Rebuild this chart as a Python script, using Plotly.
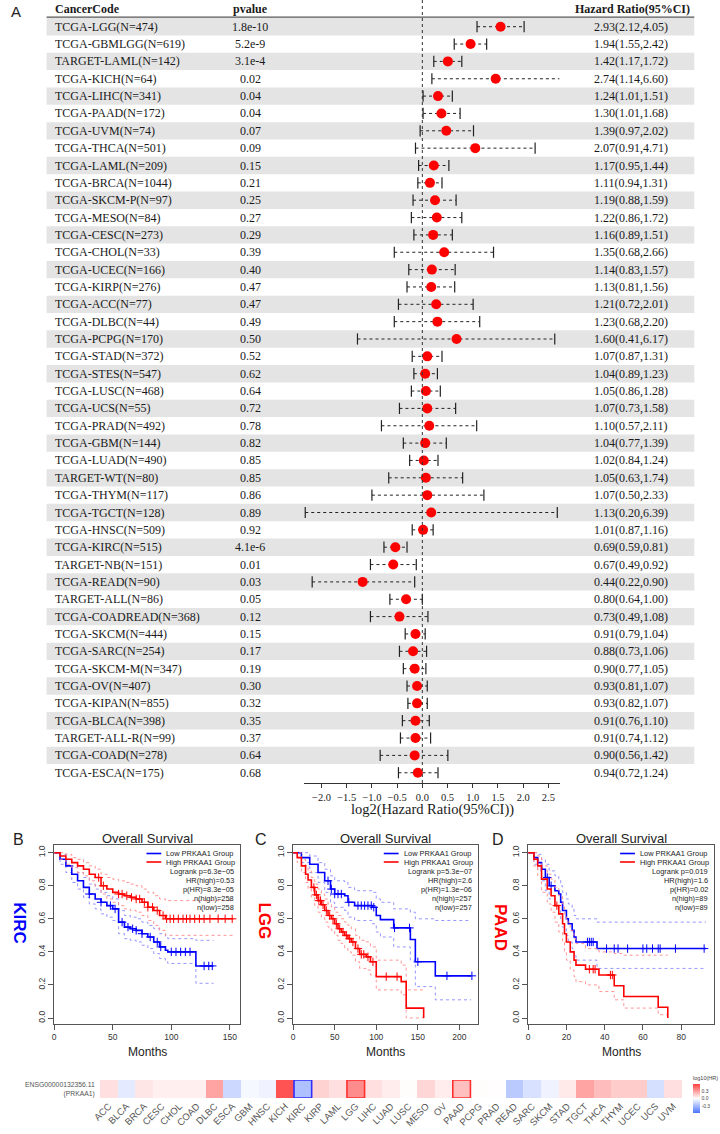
import numpy as np
import plotly.graph_objects as go

W, H = 720, 1134
def px(x): return x / W
def py(y): return 1 - y / H

# ---------------- Forest plot data ----------------
cancer_codes = ["TCGA-LGG(N=474)","TCGA-GBMLGG(N=619)","TARGET-LAML(N=142)","TCGA-KICH(N=64)",
 "TCGA-LIHC(N=341)","TCGA-PAAD(N=172)","TCGA-UVM(N=74)","TCGA-THCA(N=501)","TCGA-LAML(N=209)",
 "TCGA-BRCA(N=1044)","TCGA-SKCM-P(N=97)","TCGA-MESO(N=84)","TCGA-CESC(N=273)","TCGA-CHOL(N=33)",
 "TCGA-UCEC(N=166)","TCGA-KIRP(N=276)","TCGA-ACC(N=77)","TCGA-DLBC(N=44)","TCGA-PCPG(N=170)",
 "TCGA-STAD(N=372)","TCGA-STES(N=547)","TCGA-LUSC(N=468)","TCGA-UCS(N=55)","TCGA-PRAD(N=492)",
 "TCGA-GBM(N=144)","TCGA-LUAD(N=490)","TARGET-WT(N=80)","TCGA-THYM(N=117)","TCGA-TGCT(N=128)",
 "TCGA-HNSC(N=509)","TCGA-KIRC(N=515)","TARGET-NB(N=151)","TCGA-READ(N=90)","TARGET-ALL(N=86)",
 "TCGA-COADREAD(N=368)","TCGA-SKCM(N=444)","TCGA-SARC(N=254)","TCGA-SKCM-M(N=347)","TCGA-OV(N=407)",
 "TCGA-KIPAN(N=855)","TCGA-BLCA(N=398)","TARGET-ALL-R(N=99)","TCGA-COAD(N=278)","TCGA-ESCA(N=175)"]
pvalues = ["1.8e-10","5.2e-9","3.1e-4","0.02","0.04","0.04","0.07","0.09","0.15","0.21","0.25","0.27",
 "0.29","0.39","0.40","0.47","0.47","0.49","0.50","0.52","0.62","0.64","0.72","0.78","0.82","0.85",
 "0.85","0.86","0.89","0.92","4.1e-6","0.01","0.03","0.05","0.12","0.15","0.17","0.19","0.30","0.32",
 "0.35","0.37","0.64","0.68"]
hr = [2.93,1.94,1.42,2.74,1.24,1.30,1.39,2.07,1.17,1.11,1.19,1.22,1.16,1.35,1.14,1.13,1.21,1.23,1.60,
 1.07,1.04,1.05,1.07,1.10,1.04,1.02,1.05,1.07,1.13,1.01,0.69,0.67,0.44,0.80,0.73,0.91,0.88,0.90,0.93,
 0.93,0.91,0.91,0.90,0.94]
hr_low = [2.12,1.55,1.17,1.14,1.01,1.01,0.97,0.91,0.95,0.94,0.88,0.86,0.89,0.68,0.83,0.81,0.72,0.68,0.41,
 0.87,0.89,0.86,0.73,0.57,0.77,0.84,0.63,0.50,0.20,0.87,0.59,0.49,0.22,0.64,0.49,0.79,0.73,0.77,0.81,
 0.82,0.76,0.74,0.56,0.72]
hr_high = [4.05,2.42,1.72,6.60,1.51,1.68,2.02,4.71,1.44,1.31,1.59,1.72,1.51,2.66,1.57,1.56,2.01,2.20,6.17,
 1.31,1.23,1.28,1.58,2.11,1.39,1.24,1.74,2.33,6.39,1.16,0.81,0.92,0.90,1.00,1.08,1.04,1.06,1.05,1.07,
 1.07,1.10,1.12,1.42,1.24]
forest_ticks = [-2.0,-1.5,-1.0,-0.5,0.0,0.5,1.0,1.5,2.0,2.5]

# ---------------- KM data ----------------
kirc_hi_t = [0,5,10,15,20,25,30,35,40,45,50,55,60,65,70,75,80,85,90,95,153]
kirc_hi_s = [1.0,0.98,0.96,0.94,0.92,0.90,0.87,0.85,0.80,0.78,0.76,0.75,0.74,0.73,0.72,0.70,0.67,0.65,0.62,0.60,0.60]
kirc_hi_up = [1.0,1.0,0.99,0.97,0.96,0.94,0.92,0.90,0.87,0.85,0.84,0.83,0.82,0.81,0.80,0.78,0.76,0.74,0.72,0.71,0.71]
kirc_hi_lo = [1.0,0.96,0.93,0.91,0.88,0.86,0.83,0.80,0.75,0.72,0.70,0.68,0.66,0.65,0.64,0.62,0.59,0.56,0.53,0.50,0.50]
kirc_hi_cens = [38,42,55,58,62,66,70,73,77,80,84,88,93,96,99,102,106,110,113,116,120,124,128,133,140,146,152]
kirc_lo_t = [0,5,10,15,20,25,30,35,40,45,50,55,60,65,70,75,80,85,90,95,97,120,121,136]
kirc_lo_s = [1.0,0.96,0.92,0.87,0.83,0.79,0.75,0.72,0.70,0.68,0.66,0.58,0.55,0.54,0.53,0.51,0.49,0.46,0.43,0.41,0.40,0.40,0.315,0.315]
kirc_lo_up = [1.0,0.99,0.96,0.92,0.88,0.85,0.81,0.78,0.76,0.74,0.72,0.65,0.62,0.61,0.60,0.58,0.56,0.54,0.51,0.49,0.48,0.48,0.47,0.47]
kirc_lo_lo = [1.0,0.93,0.88,0.82,0.78,0.73,0.69,0.66,0.63,0.61,0.59,0.51,0.48,0.47,0.46,0.44,0.42,0.39,0.36,0.34,0.33,0.33,0.21,0.21]
kirc_lo_cens = [30,40,48,52,58,63,67,70,75,82,88,91,100,104,108,112,116,128,132,135]

lgg_hi_t = [0,5,10,15,18,22,26,30,34,38,42,46,50,54,58,62,66,70,75,80,88,93,100,130,136,157]
lgg_hi_s = [1.0,0.97,0.92,0.87,0.835,0.79,0.745,0.71,0.685,0.65,0.62,0.60,0.57,0.54,0.52,0.50,0.48,0.46,0.42,0.385,0.37,0.34,0.25,0.22,0.06,0.0]
lgg_hi_up = [1.0,1.0,0.96,0.92,0.89,0.85,0.81,0.78,0.75,0.72,0.69,0.67,0.64,0.62,0.60,0.58,0.56,0.54,0.50,0.47,0.46,0.43,0.35,0.32,0.17,0.17]
lgg_hi_lo = [1.0,0.94,0.88,0.82,0.78,0.73,0.68,0.64,0.61,0.58,0.55,0.53,0.50,0.47,0.45,0.42,0.40,0.38,0.34,0.30,0.29,0.26,0.17,0.14,0.0,0.0]
lgg_hi_cens = [25,28,31,33,36,40,44,48,52,56,60,64,68,72,78,82,85,90,96,112,125]
lgg_lo_t = [0,10,20,30,38,45,50,62,66,74,95,100,105,121,141,147,171,214]
lgg_lo_s = [1.0,0.97,0.93,0.88,0.83,0.78,0.75,0.74,0.70,0.68,0.67,0.62,0.595,0.545,0.475,0.34,0.255,0.255]
lgg_lo_up = [1.0,1.0,0.98,0.94,0.90,0.86,0.83,0.82,0.79,0.77,0.76,0.72,0.70,0.66,0.64,0.60,0.59,0.59]
lgg_lo_lo = [1.0,0.94,0.88,0.82,0.76,0.70,0.67,0.65,0.61,0.59,0.57,0.52,0.49,0.43,0.35,0.19,0.11,0.11]
lgg_lo_cens = [42,46,50,54,58,67,78,82,86,90,94,97,122,140,150,185,215]

paad_hi_t = [0,3,5,7,10,12,14,16,18,19,20,22,24,25,30,37,45,50,68,73]
paad_hi_s = [1.0,0.96,0.92,0.84,0.78,0.74,0.68,0.63,0.57,0.51,0.46,0.40,0.35,0.32,0.295,0.26,0.195,0.13,0.065,0.0]
paad_hi_up = [1.0,1.0,0.98,0.92,0.87,0.84,0.79,0.74,0.69,0.63,0.58,0.53,0.48,0.45,0.42,0.40,0.39,0.38,0.38,0.38]
paad_hi_lo = [1.0,0.92,0.86,0.76,0.69,0.64,0.58,0.52,0.46,0.40,0.35,0.29,0.25,0.22,0.20,0.16,0.11,0.06,0.02,0.02]
paad_hi_cens = [15,32,34,35,43,44]
paad_lo_t = [0,3,5,7,9,11,14,16,17,18,20,21,23,24,25,36,93]
paad_lo_s = [1.0,0.97,0.94,0.90,0.85,0.80,0.77,0.75,0.70,0.65,0.60,0.57,0.53,0.49,0.46,0.42,0.42]
paad_lo_up = [1.0,1.0,0.99,0.96,0.93,0.89,0.86,0.84,0.80,0.76,0.72,0.69,0.66,0.62,0.60,0.58,0.58]
paad_lo_lo = [1.0,0.93,0.89,0.83,0.77,0.72,0.68,0.65,0.60,0.55,0.50,0.46,0.42,0.38,0.35,0.30,0.30]
paad_lo_cens = [10,12,31,32,33,34,41,45,47,52,60,62,65,68,69,77,92]

km_stats = {
 "B": ["Logrank p=6.3e\u221205", "HR(high)=0.53", "p(HR)=8.3e\u221205", "n(high)=258", "n(low)=258"],
 "C": ["Logrank p=5.3e\u221207", "HR(high)=2.6", "p(HR)=1.3e\u221206", "n(high)=257", "n(low)=257"],
 "D": ["Logrank p=0.019", "HR(high)=1.6", "p(HR)=0.02", "n(high)=89", "n(low)=89"],
}

# ---------------- Heatmap data ----------------
heat_cancers = ["ACC","BLCA","BRCA","CESC","CHOL","COAD","DLBC","ESCA","GBM","HNSC","KICH","KIRC",
 "KIRP","LAML","LGG","LIHC","LUAD","LUSC","MESO","OV","PAAD","PCPG","PRAD","READ","SARC","SKCM",
 "STAD","TGCT","THCA","THYM","UCEC","UCS","UVM"]
heat_log10hr = [0.10,-0.09,0.08,0.05,0.05,0.05,0.29,-0.17,-0.03,-0.05,0.54,-0.27,0.14,0.10,0.36,0.10,
 0.06,0.01,0.13,0.06,0.20,0.01,0.005,-0.23,-0.13,-0.05,0.07,0.29,0.21,0.16,0.16,-0.14,0.10]
heat_outlined = {"KIRC": "#2f2fff", "LGG": "#ff2f2f", "PAAD": "#ff2f2f"}

SERIF = "Liberation Serif"
SANS = "Liberation Sans"

fig = go.Figure()
shapes = []
ann = []

def pann(text, x, y, font, xanchor="center", yanchor="middle", **kw):
    ann.append(dict(text=text, x=px(x), y=py(y), xref="paper", yref="paper", xanchor=xanchor,
                    yanchor=yanchor, showarrow=False, font=font, **kw))

# ---------------- Forest plot ----------------
n = len(cancer_codes)
rows = np.arange(1, n + 1)
ROW0, ROWH = 26.7, 17.35
AX_BOTTOM = 783
y_top_r = 1 - ROW0 / ROWH
y_bot_r = 1 + (AX_BOTTOM - ROW0) / ROWH
ZERO_PX, UNIT = 419.0, 51.0
xr = [-2.34, 2.72]

lhr = np.log2(hr); llo = np.log2(hr_low); lhi = np.log2(hr_high)

for r in rows:
    if r % 2 == 1:
        shapes.append(dict(type="rect", xref="paper", yref="y", x0=px(39), x1=px(694),
                           y0=r - 0.5, y1=r + 0.5, fillcolor="#e4e4e4", line=dict(width=0), layer="below"))
shapes.append(dict(type="line", xref="paper", yref="y", x0=px(39), x1=px(694), y0=0.45, y1=0.45,
                   line=dict(color="#555555", width=1.3)))
shapes.append(dict(type="line", xref="x", yref="y", x0=0, x1=0, y0=y_top_r, y1=y_bot_r,
                   line=dict(color="#333333", width=1, dash="dot")))

wx, wy = [], []
for a, b, r in zip(llo, lhi, rows):
    wx += [a, b, None]; wy += [r, r, None]
fig.add_trace(go.Scatter(x=wx, y=wy, mode="lines", line=dict(color="#222222", width=1, dash="dot"),
                         hoverinfo="skip", showlegend=False, xaxis="x", yaxis="y"))
fig.add_trace(go.Scatter(x=list(llo) + list(lhi), y=list(rows) + list(rows), mode="markers",
                         marker=dict(symbol="line-ns", size=8, line=dict(color="#222222", width=1.2)),
                         cliponaxis=False, hoverinfo="skip", showlegend=False, xaxis="x", yaxis="y"))
fig.add_trace(go.Scatter(x=lhr, y=rows, mode="markers", marker=dict(color="#ff0000", size=10),
                         cliponaxis=False, showlegend=False, xaxis="x", yaxis="y"))

tf = dict(family=SERIF, size=12, color="#1a1a1a")
def rann(text, x, r, xanchor):
    ann.append(dict(text=text, x=px(x), y=r, xref="paper", yref="y", xanchor=xanchor, yanchor="middle",
                    showarrow=False, font=tf))
rann("<b>CancerCode</b>", 45, 0, "left")
rann("<b>pvalue</b>", 245, 0, "center")
rann("<b>Hazard Ratio(95%CI)</b>", 632, 0, "center")
for r, c, p, h, lo, hi in zip(rows, cancer_codes, pvalues, hr, hr_low, hr_high):
    rann(c, 45, r, "left")
    rann(p, 245, r, "center")
    rann(f"{h:.2f}({lo:.2f},{hi:.2f})", 630, r, "center")
pann("A", 8, 11, dict(family=SANS, size=15, color="#222"))
pann("log2(Hazard Ratio(95%CI))", 429, 809, dict(family=SERIF, size=14.5, color="#1a1a1a"))

layout_axes = {}
layout_axes["xaxis"] = dict(domain=[px(ZERO_PX + xr[0] * UNIT), px(ZERO_PX + xr[1] * UNIT)], range=xr,
                            anchor="y", showline=True, linecolor="#333", linewidth=1, ticks="outside",
                            ticklen=4, tickcolor="#333", tickvals=forest_ticks, tickformat=".1f",
                            tickfont=dict(family=SERIF, size=10.5, color="#1a1a1a"),
                            showgrid=False, zeroline=False, fixedrange=True)
layout_axes["yaxis"] = dict(domain=[py(AX_BOTTOM), 1], range=[y_bot_r, y_top_r], visible=False,
                            showgrid=False, zeroline=False)

# ---------------- KM panels ----------------
BOX_T, BOX_B = 845, 1024
Y0_PX, Y1_PX = 1018, 852.7
ppu = Y0_PX - Y1_PX
yrange = [-(BOX_B - Y0_PX) / ppu, (Y0_PX - BOX_T) / ppu]

panels = [
    dict(key="B", ax="2", left=46.7, right=235, xmax=159, ticks=[0, 50, 100, 150],
         label="KIRC", lab_color="#0000ff", lab_x=12, lab_y=923, letter_x=10.5,
         hi=(kirc_hi_t, kirc_hi_s, kirc_hi_up, kirc_hi_lo, kirc_hi_cens),
         lo=(kirc_lo_t, kirc_lo_s, kirc_lo_up, kirc_lo_lo, kirc_lo_cens)),
    dict(key="C", ax="3", left=288.3, right=475, xmax=222, ticks=[0, 50, 100, 150, 200],
         label="LGG", lab_color="#ff0000", lab_x=259.5, lab_y=921, letter_x=256,
         hi=(lgg_hi_t, lgg_hi_s, lgg_hi_up, lgg_hi_lo, lgg_hi_cens),
         lo=(lgg_lo_t, lgg_lo_s, lgg_lo_up, lgg_lo_lo, lgg_lo_cens)),
    dict(key="D", ax="4", left=526, right=714, xmax=97.2, ticks=[0, 20, 40, 60, 80],
         label="PAAD", lab_color="#ff0000", lab_x=498.5, lab_y=928, letter_x=495,
         hi=(paad_hi_t, paad_hi_s, paad_hi_up, paad_hi_lo, paad_hi_cens),
         lo=(paad_lo_t, paad_lo_s, paad_lo_up, paad_lo_lo, paad_lo_cens)),
]

def add_curve(data, color, light, xa, ya):
    t, s, up, lo, cens = data
    for ci in (up, lo):
        fig.add_trace(go.Scatter(x=t, y=ci, mode="lines", line=dict(color=light, width=0.9, dash="dot", shape="hv"),
                                 hoverinfo="skip", showlegend=False, xaxis=xa, yaxis=ya))
    fig.add_trace(go.Scatter(x=t, y=s, mode="lines", line=dict(color=color, width=1.6, shape="hv"),
                             showlegend=False, xaxis=xa, yaxis=ya))
    tt = np.array(t); ss = np.array(s)
    idx = np.searchsorted(tt, np.array(cens), side="right") - 1
    fig.add_trace(go.Scatter(x=cens, y=ss[idx], mode="markers",
                             marker=dict(symbol="cross-thin", size=6, line=dict(color=color, width=1)),
                             hoverinfo="skip", showlegend=False, xaxis=xa, yaxis=ya))

sf = dict(family=SANS, size=7.4, color="#222")
for p in panels:
    xa, ya = "x" + p["ax"], "y" + p["ax"]
    add_curve(p["lo"], "#0000ff", "#8a8aff", xa, ya)
    add_curve(p["hi"], "#ff0000", "#ff8a8a", xa, ya)
    axcommon = dict(showline=True, mirror=True, linecolor="#555", linewidth=1, ticks="outside", ticklen=5,
                    tickcolor="#555", showgrid=False, zeroline=False, fixedrange=True,
                    tickfont=dict(family=SANS, size=8.5, color="#333"))
    layout_axes["xaxis" + p["ax"]] = dict(domain=[px(p["left"]), px(p["right"])], range=[0, p["xmax"]],
                                           anchor=ya, tickvals=p["ticks"], **axcommon)
    layout_axes["yaxis" + p["ax"]] = dict(domain=[py(BOX_B), py(BOX_T)], range=yrange, anchor=xa,
                                           tickvals=[0, 0.2, 0.4, 0.6, 0.8, 1.0], tickformat=".1f",
                                           tickangle=-90, **axcommon)
    cx = (p["left"] + p["right"]) / 2
    pann("Overall Survival", cx, 838, dict(family=SANS, size=13, color="#222"))
    pann("Months", cx, 1052, dict(family=SANS, size=12, color="#222"))
    pann(p["key"], p["letter_x"], 839, dict(family=SANS, size=16, color="#222"))
    pann("<b>" + p["label"] + "</b>", p["lab_x"], p["lab_y"],
         dict(family=SANS, size=17, color=p["lab_color"]), textangle=90)
    tr = p["right"] - 4
    lx0, lx1 = tr - 91, tr - 76
    for yy, col, txt in ((853.5, "#0000ff", "Low PRKAA1 Group"), (862, "#ff0000", "High PRKAA1 Group")):
        shapes.append(dict(type="line", xref="paper", yref="paper", x0=px(lx0), x1=px(lx1), y0=py(yy), y1=py(yy),
                           line=dict(color=col, width=1.6)))
        pann(txt, lx1 + 3, yy, sf, xanchor="left")
    for i, txt in enumerate(km_stats[p["key"]]):
        pann(txt, tr, 871.5 + 9 * i, sf, xanchor="right")

# ---------------- Heatmap ----------------
fig.add_trace(go.Heatmap(z=[heat_log10hr], x=heat_cancers, y=[0], zmin=-0.6, zmax=0.6,
                         colorscale=[[0, "#4a74ff"], [0.5, "#ffffff"], [1, "#ff4040"]],
                         xaxis="x5", yaxis="y5",
                         colorbar=dict(thickness=6.6, thicknessmode="pixels", len=40, lenmode="pixels",
                                       x=px(692.7), xanchor="left", y=py(1093), yanchor="middle",
                                       tickvals=[-0.3, 0, 0.3], ticktext=["-0.3", "0.0", "0.3"],
                                       tickfont=dict(family=SANS, size=5, color="#444"), ticks="",
                                       outlinewidth=0, xpad=0, ypad=0,
                                       title=dict(text="log10(HR)", side="top",
                                                  font=dict(family=SANS, size=5.5, color="#444")))))
for c, col in heat_outlined.items():
    i = heat_cancers.index(c)
    shapes.append(dict(type="rect", xref="x5", yref="y5", x0=i - 0.5, x1=i + 0.5, y0=-0.5, y1=0.5,
                       line=dict(color=col, width=1.6)))
layout_axes["xaxis5"] = dict(domain=[px(93), px(681.7)], anchor="y5", tickangle=-45, ticks="",
                             tickfont=dict(family=SANS, size=9.5, color="#555"), showgrid=False,
                             zeroline=False, showline=False, fixedrange=True)
layout_axes["yaxis5"] = dict(domain=[py(1098), py(1080)], anchor="x5", visible=False, range=[-0.5, 0.5])
pann("ENSG00000132356.11<br>(PRKAA1)", 90, 1089, dict(family=SANS, size=6.8, color="#555"),
     xanchor="right", align="right")

fig.update_layout(width=W, height=H, margin=dict(l=0, r=0, t=0, b=0), paper_bgcolor="white",
                  plot_bgcolor="rgba(0,0,0,0)", showlegend=False, shapes=shapes, annotations=ann,
                  hovermode=False, **layout_axes)
fig.write_html("out.html", config={"displayModeBar": False, "staticPlot": True},
               post_script="document.body.style.margin='0';document.body.style.overflow='hidden';")
